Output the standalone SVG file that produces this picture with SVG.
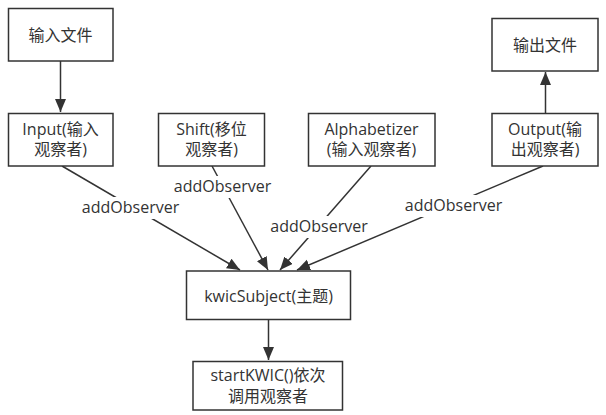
<svg xmlns="http://www.w3.org/2000/svg" width="606" height="415" viewBox="0 0 606 415">
  <style>
    .box { fill: #ffffff; stroke: #333333; stroke-width: 1.5; }
    .txt { font-family: "Open Sans", "Noto Sans CJK SC", sans-serif; font-size: 16px; fill: #333333; text-anchor: middle; }
    .lbl { font-family: "Open Sans", "Noto Sans CJK SC", sans-serif; font-size: 16px; fill: #333333; text-anchor: middle; }
    .edge { fill: none; stroke: #333333; stroke-width: 1.5; }
    .lblbg { fill: #ffffff; stroke: none; }
  </style>
  <defs>
    <marker id="arrow" markerUnits="userSpaceOnUse" markerWidth="14" markerHeight="12" refX="13" refY="5.5" orient="auto">
      <path d="M0,0 L13,5.5 L0,11 Z" fill="#333333"/>
    </marker>
  </defs>
  <rect width="606" height="415" fill="#ffffff"/>

  <g id="connectors">
    <line class="edge" x1="60.5" y1="61" x2="60.5" y2="112" marker-end="url(#arrow)"/>
    <line class="edge" x1="545.5" y1="113" x2="545.5" y2="72" marker-end="url(#arrow)"/>
    <line class="edge" x1="268.5" y1="319.5" x2="268.5" y2="360" marker-end="url(#arrow)"/>
    <line class="edge" x1="62" y1="166" x2="240" y2="270" marker-end="url(#arrow)"/>
    <line class="edge" x1="212" y1="166" x2="268" y2="270" marker-end="url(#arrow)"/>
    <line class="edge" x1="371" y1="166" x2="280" y2="270" marker-end="url(#arrow)"/>
    <line class="edge" x1="543" y1="166" x2="297" y2="270" marker-end="url(#arrow)"/>
    <rect class="lblbg" x="80" y="197" width="101" height="22"/>
    <text class="lbl" x="130.5" y="213">addObserver</text>
    <rect class="lblbg" x="172" y="176" width="101" height="22"/>
    <text class="lbl" x="222.5" y="192">addObserver</text>
    <rect class="lblbg" x="268" y="216" width="102" height="22"/>
    <text class="lbl" x="319" y="232">addObserver</text>
    <rect class="lblbg" x="402" y="195" width="103" height="22"/>
    <text class="lbl" x="453.5" y="211">addObserver</text>
  </g>

  <g id="input-file">
    <rect class="box" x="8.5" y="8.5" width="104.5" height="52.5"/>
    <text class="txt" x="60.5" y="41">输入文件</text>
  </g>
  <g id="output-file">
    <rect class="box" x="492" y="18.5" width="106" height="52.5"/>
    <text class="txt" x="545" y="51">输出文件</text>
  </g>
  <g id="input">
    <rect class="box" x="8.5" y="113.5" width="104.5" height="52.5"/>
    <text class="txt" x="60.5" y="135">Input(输入</text>
    <text class="txt" x="60.5" y="155">观察者)</text>
  </g>
  <g id="shift">
    <rect class="box" x="158.5" y="113.5" width="106" height="52.5"/>
    <text class="txt" x="211.5" y="135">Shift(移位</text>
    <text class="txt" x="211.5" y="155">观察者)</text>
  </g>
  <g id="alphabetizer">
    <rect class="box" x="308.5" y="113.5" width="126.5" height="52.5"/>
    <text class="txt" x="371.5" y="135">Alphabetizer</text>
    <text class="txt" x="371.5" y="155">(输入观察者)</text>
  </g>
  <g id="output">
    <rect class="box" x="492" y="113.5" width="106" height="52.5"/>
    <text class="txt" x="545" y="135">Output(输</text>
    <text class="txt" x="545" y="155">出观察者)</text>
  </g>
  <g id="kwic-subject">
    <rect class="box" x="186.5" y="271" width="164" height="48.5"/>
    <text class="txt" x="268.5" y="302">kwicSubject(主题)</text>
  </g>
  <g id="start-kwic">
    <rect class="box" x="193" y="361.5" width="149.5" height="48.5"/>
    <text class="txt" x="268" y="381">startKWIC()依次</text>
    <text class="txt" x="268" y="402">调用观察者</text>
  </g>
</svg>
